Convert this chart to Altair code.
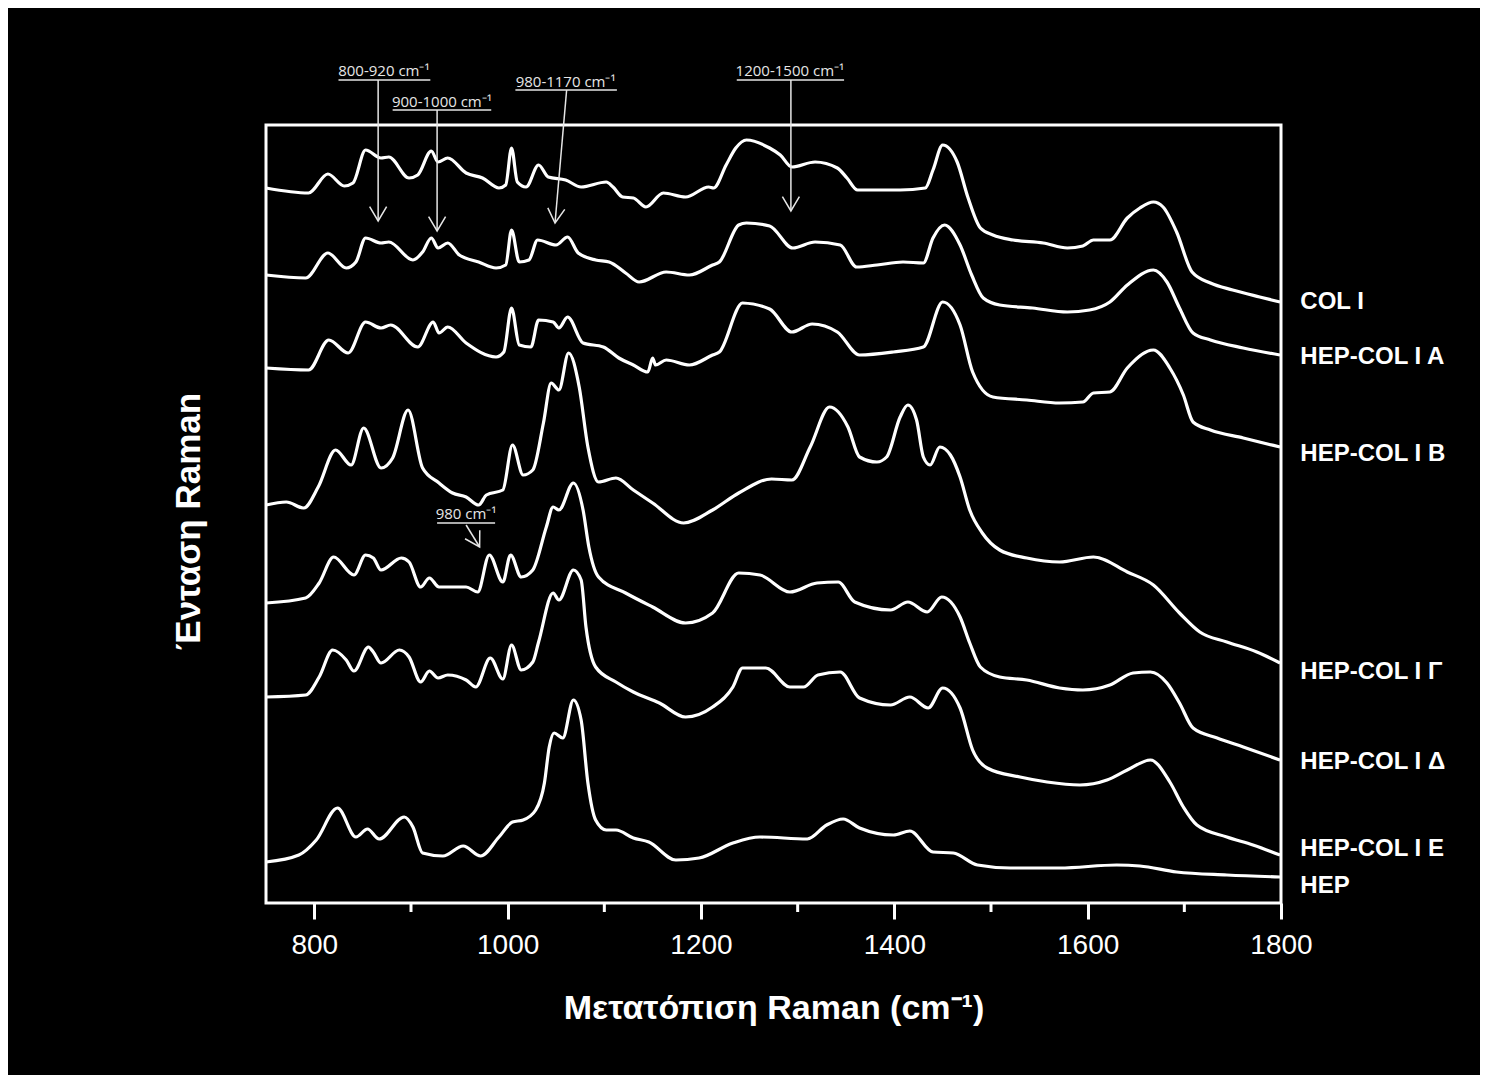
import altair as alt
import pandas as pd

# ---------------- data ----------------
series_names = ["COL I", "HEP-COL I A", "HEP-COL I B", "HEP-COL I Γ",
                "HEP-COL I Δ", "HEP-COL I E", "HEP"]

wn_col = [750,794,814,831,840,853,869,877,898,907,921,928,938,957,974,991,998,1004,1010,1019,
          1032,1042,1060,1076,1102,1109,1119,1130,1143,1161,1184,1208,1213,1226,1236,1247,1271,1282,
          1294,1318,1341,1351,1362,1382,1406,1432,1440,1450,1465,1476,1489,1502,1523,1554,1579,1595,
          1606,1623,1641,1654,1668,1678,1692,1708,1727,1750,1778,1799]
in_col = [715,710,729,717,720,753,745,746,725,728,752,741,745,730,725,715,718,755,721,716,
          738,726,723,716,721,716,706,705,696,710,706,716,715,738,755,763,755,748,
          736,741,735,725,713,713,713,715,733,758,741,706,675,668,663,660,655,657,
          663,663,685,695,701,696,671,631,620,613,606,601]

wn_a = [750,791,814,833,843,853,869,877,902,912,921,928,938,950,970,988,998,1004,1012,1022,
        1031,1050,1062,1073,1091,1105,1122,1136,1164,1188,1212,1219,1239,1247,1271,1295,1318,1344,
        1361,1382,1409,1430,1440,1452,1468,1480,1492,1509,1543,1579,1602,1623,1641,1668,1682,1695,
        1709,1727,1761,1799]
in_a = [628,625,650,635,641,665,660,661,643,651,665,655,660,648,641,635,638,673,641,643,
        663,658,666,650,643,641,630,621,631,628,638,641,678,680,677,655,661,658,
        636,638,641,640,665,678,658,628,605,598,595,591,593,601,618,633,621,595,
        570,563,555,548]

wn_b = [750,794,815,835,853,869,879,907,923,929,938,957,988,996,1004,1012,1024,1032,1047,1053,
        1062,1078,1099,1115,1130,1145,1150,1153,1164,1188,1212,1219,1243,1271,1294,1315,1341,1364,
        1399,1430,1450,1468,1481,1502,1537,1571,1595,1606,1623,1641,1668,1685,1699,1709,1727,1761,1799]
in_b = [535,533,563,550,581,575,578,556,581,570,576,560,546,551,595,558,556,583,581,575,
        586,560,556,545,538,531,545,538,543,538,548,551,600,594,571,579,571,548,
        551,556,601,578,531,506,503,500,501,510,511,535,553,535,508,481,473,465,456]

wn_g = [750,771,789,804,822,838,851,869,881,897,912,929,943,957,970,978,995,1005,1016,1026,
        1037,1045,1053,1063,1074,1083,1094,1112,1130,1150,1182,1212,1239,1273,1294,1313,1333,1352,
        1364,1382,1392,1406,1414,1423,1430,1437,1447,1458,1468,1478,1491,1509,1537,1571,1606,1641,
        1668,1695,1716,1744,1775,1799]
in_g = [398,401,395,416,453,438,475,435,445,493,435,420,410,406,398,408,413,458,428,433,
        480,520,513,550,516,456,421,425,413,400,380,393,410,424,423,456,496,476,
        446,441,446,486,498,483,446,438,456,448,426,393,370,353,345,341,346,331,
        318,290,271,261,251,240]

wn_d = [750,791,805,820,841,853,861,869,890,898,910,919,929,957,969,981,995,1003,1014,1026,
        1040,1047,1053,1068,1078,1084,1094,1122,1150,1184,1212,1239,1261,1292,1320,1342,1359,1396,
        1414,1434,1449,1468,1478,1489,1509,1537,1571,1595,1623,1647,1665,1682,1695,1709,1734,1761,1799]
in_d = [300,305,320,346,328,348,345,333,345,341,316,325,316,316,311,348,321,348,326,333,
        376,396,393,420,393,356,326,310,296,280,290,330,328,311,320,321,301,293,
        301,291,306,286,260,236,226,223,215,213,218,230,231,220,200,175,165,156,143]

wn_e = [750,791,805,819,833,841,856,861,869,888,898,910,919,928,938,957,967,982,995,1004,
        1014,1026,1032,1047,1053,1068,1076,1081,1091,1112,1130,1157,1184,1212,1233,1243,1267,1292,
        1306,1321,1344,1364,1396,1416,1435,1450,1468,1481,1496,1530,1558,1592,1620,1641,1665,1685,
        1699,1713,1744,1771,1799]
in_e = [206,208,226,253,243,232,256,251,240,253,246,221,232,225,228,223,216,245,224,258,
        233,241,261,310,303,333,323,276,236,221,211,200,186,196,216,235,235,216,
        216,228,231,205,198,206,195,215,195,153,135,126,121,118,123,133,143,121,
        96,78,66,58,48]

wn_hep = [750,784,802,824,843,855,867,893,902,912,933,954,972,991,1005,1016,1029,1038,1043,1048,
          1057,1068,1076,1083,1091,1102,1112,1130,1146,1174,1198,1233,1261,1310,1330,1347,1364,1399,
          1416,1440,1461,1486,1520,1571,1630,1654,1692,1744,1799]
in_hep = [41,48,63,95,66,74,64,86,76,50,47,57,47,66,81,83,93,120,156,170,
          165,203,183,120,83,73,73,65,61,43,45,60,66,64,78,84,75,68,
          72,51,50,38,35,35,38,37,31,28,26]

wavenumbers = [wn_col, wn_a, wn_b, wn_g, wn_d, wn_e, wn_hep]
intensities = [in_col, in_a, in_b, in_g, in_d, in_e, in_hep]

major_ticks = [800, 1000, 1200, 1400, 1600, 1800]
minor_ticks = [900, 1100, 1300, 1500, 1700]

# curve labels at the right (x in cm-1, y in intensity units)
label_wn = 1820
label_int = [594, 539, 442, 224, 134, 47, 10]

# annotations
ann_text = ["800-920 cm⁻¹", "900-1000 cm⁻¹", "980-1170  cm⁻¹", "1200-1500 cm⁻¹", "980 cm⁻¹"]
ann_wn = [872, 932, 1060, 1292, 957]
ann_int = [827, 796, 816, 827, 384]
ul_wn1 = [825, 881, 1008, 1237, 927]
ul_wn2 = [920, 983, 1113, 1348, 987]
ul_int = [823, 793, 813, 823, 380]
arr_wn1 = [866, 927, 1061, 1293, 957]
arr_int1 = [823, 793, 813, 823, 378]
arr_wn2 = [866, 927, 1049, 1293, 971]
arr_int2 = [682, 672, 680, 692, 356]
arr_angle = [0, 0, 5, 0, 330]

# ---------------- tables ----------------
rows = []
for name, wn, it in zip(series_names, wavenumbers, intensities):
    for k, (w, v) in enumerate(zip(wn, it)):
        rows.append({"series": name, "wn": w, "I": v, "k": k})
df = pd.DataFrame(rows)

df_lab = pd.DataFrame({"txt": series_names, "wn": [label_wn] * len(series_names), "I": label_int})
df_minor = pd.DataFrame({"wn": minor_ticks, "I": [0] * len(minor_ticks), "I2": [-9] * len(minor_ticks)})
df_ann = pd.DataFrame({"txt": ann_text, "wn": ann_wn, "I": ann_int})
df_ul = pd.DataFrame({"wn": ul_wn1, "wn2": ul_wn2, "I": ul_int})
df_arr = pd.DataFrame({"wn": arr_wn1, "I": arr_int1, "wn2": arr_wn2, "I2": arr_int2})
df_head = pd.DataFrame({"wn": arr_wn2, "I": arr_int2, "ang": arr_angle})

# ---------------- chart ----------------
FONT = "Liberation Sans"
x_scale = alt.Scale(domain=[750, 1800], nice=False, zero=False)
y_scale = alt.Scale(domain=[0, 778], nice=False, zero=False)

x_axis = alt.Axis(values=major_ticks, title="Μετατόπιση Raman (cm⁻¹)", format="d",
                  labelFlush=False, labelOverlap=False, grid=False, domain=False,
                  tickSize=16, tickWidth=3, tickColor="white",
                  labelFont=FONT, labelFontSize=28, labelColor="white",
                  labelBaseline="alphabetic", labelPadding=34,
                  titleFont=FONT, titleFontSize=34, titleFontWeight="bold", titleColor="white",
                  titleBaseline="alphabetic", titleY=115)
y_axis = alt.Axis(title="Ένταση Raman", labels=False, ticks=False, domain=False, grid=False,
                  titleFont=FONT, titleFontSize=35, titleFontWeight="bold", titleColor="white",
                  titleAngle=270, titleBaseline="alphabetic", titleX=-67, titleY=396)

X = alt.X("wn:Q", scale=x_scale, axis=x_axis)
Y = alt.Y("I:Q", scale=y_scale, axis=y_axis)

lines = alt.Chart(df).mark_line(color="white", strokeWidth=3.2, strokeJoin="round",
                                interpolate="monotone").encode(
    x=X, y=Y, detail="series:N", order="k:Q")

minor = alt.Chart(df_minor).mark_rule(color="white", strokeWidth=3).encode(
    x=X, y=Y, y2="I2:Q")

labels = alt.Chart(df_lab).mark_text(align="left", baseline="alphabetic", font=FONT,
                                     fontSize=24, fontWeight="bold", color="white").encode(
    x=X, y=Y, text="txt:N")

ann = alt.Chart(df_ann).mark_text(align="center", baseline="alphabetic", font="Open Sans",
                                  fontSize=15, color="#e6e6e6").encode(
    x=X, y=Y, text="txt:N")

under = alt.Chart(df_ul).mark_rule(color="#e6e6e6", strokeWidth=1.3).encode(
    x=X, x2="wn2:Q", y=Y)

shafts = alt.Chart(df_arr).mark_rule(color="#e6e6e6", strokeWidth=1.5).encode(
    x=X, y=Y, x2="wn2:Q", y2="I2:Q")

heads = alt.Chart(df_head).mark_point(shape="M -1 -1.7 L 0 0 L 1 -1.7", filled=False,
                                      size=289, strokeWidth=1.5, color="#e6e6e6", opacity=1).encode(
    x=X, y=Y, angle=alt.Angle("ang:Q", scale=None))

chart = alt.layer(lines, minor, labels, under, shafts, heads, ann).properties(
    width=1015, height=778,
    padding={"left": 258, "top": 117, "right": 199, "bottom": 172},
    autosize="none",
).configure(background="black").configure_view(stroke="white", strokeWidth=3)

chart.save("out.html", embed_options={"renderer": "svg", "actions": False})
